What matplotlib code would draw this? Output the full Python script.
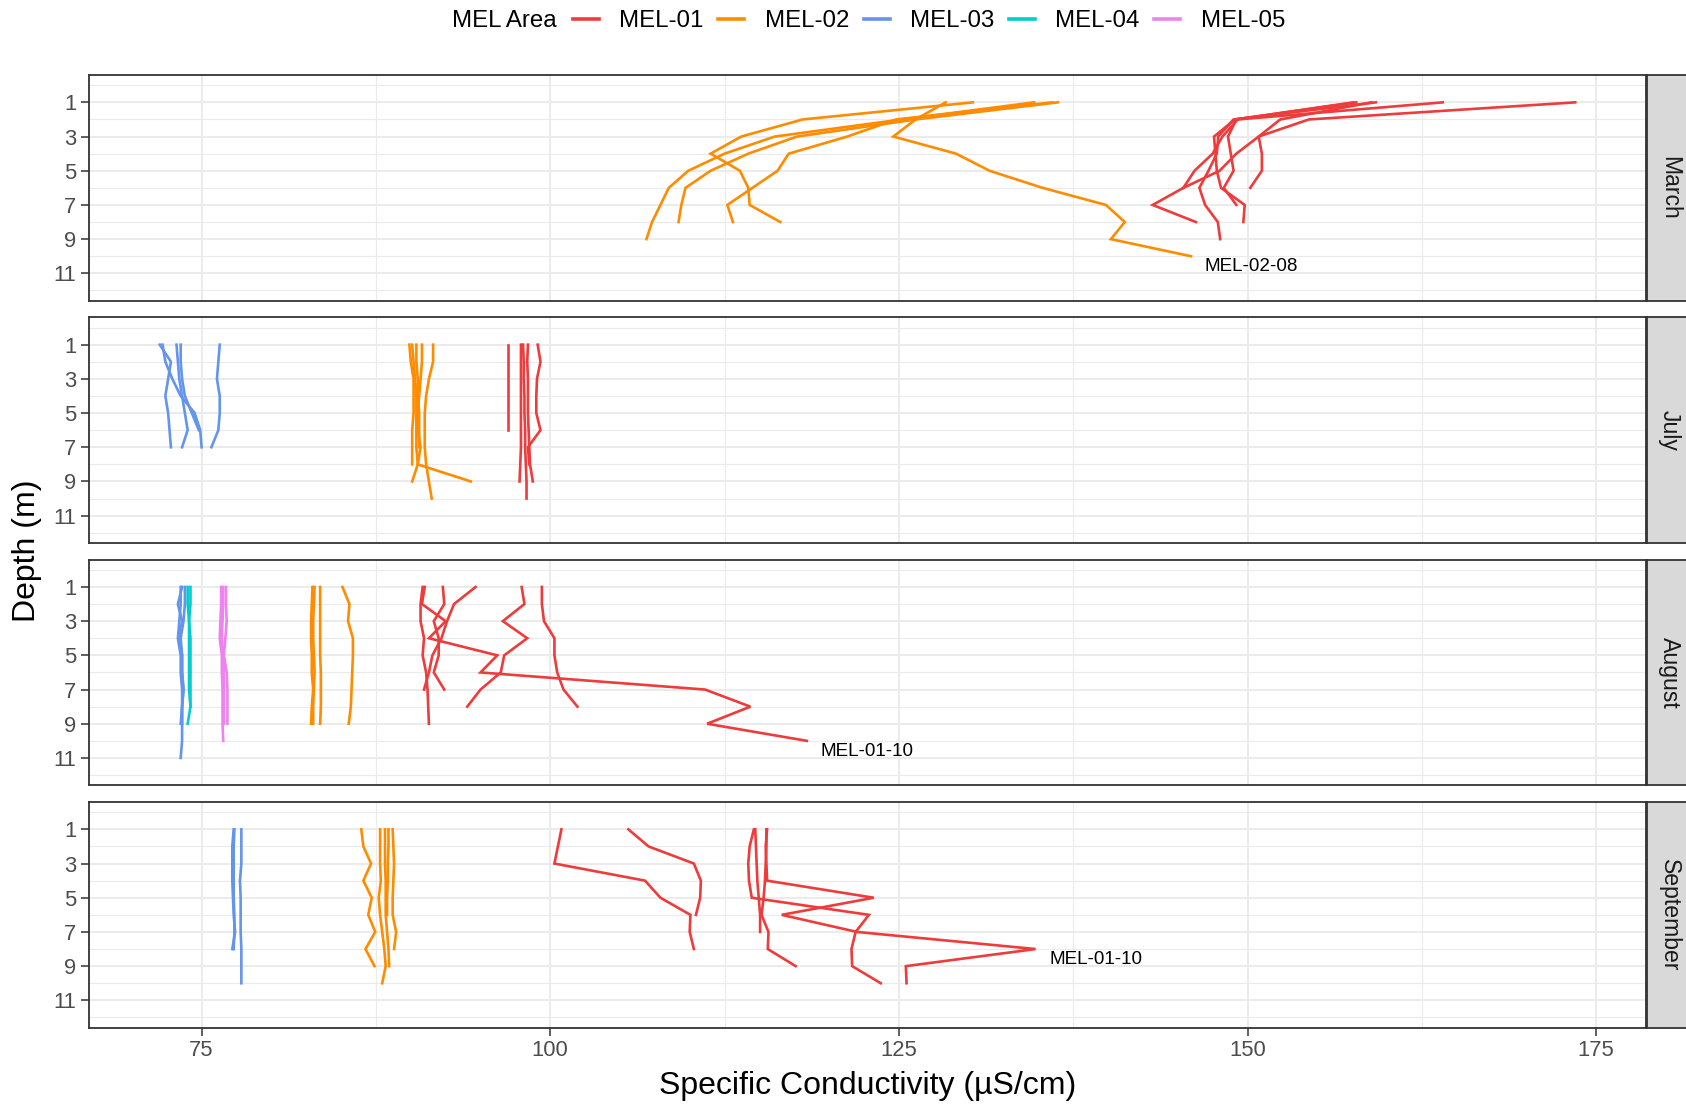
import matplotlib
matplotlib.use("Agg")
import matplotlib.pyplot as plt
from matplotlib.lines import Line2D
from matplotlib.ticker import FixedLocator
import numpy as np

plt.rcParams['font.family'] = ['Liberation Sans', 'DejaVu Sans']

# ---- data: conductivity profiles (µS/cm), depth starts at 1 m in 1 m steps ----
months = ["March", "July", "August", "September"]
areas = ["MEL-01", "MEL-02", "MEL-03", "MEL-04", "MEL-05"]
area_colors = ["#EE3B3B", "#FF8C00", "#6495ED", "#00CDCD", "#EE82EE"]

march_mel01 = [
    [173.5, 154.4, 150.8, 149.2, 148.0, 145.4, 143.2, 146.3],
    [164.0, 149.3, 148.2, 147.5, 146.2, 145.4],
    [159.2, 149.0, 147.9, 147.8, 147.2, 146.55, 146.96, 147.87, 148.04],
    [157.6, 149.2, 148.6, 148.8, 149.0, 148.3, 149.2],
    [157.8, 149.1, 147.6, 147.7, 147.8, 148.1, 149.8, 149.7],
    [158.9, 152.35, 150.8, 151.03, 151.03, 150.2],
]
march_mel02 = [
    [134.7, 125.2, 116.1, 112.5, 109.9, 108.5, 107.9, 107.3, 106.9],
    [136.4, 126.2, 117.7, 114.2, 111.5, 109.7, 109.4, 109.2],
    [136.0, 124.8, 121.3, 117.1, 116.3, 114.5, 112.7, 113.1],
    [130.3, 118.1, 113.7, 111.5, 113.6, 114.2, 114.3, 116.5],
]
march_mel02_08 = [128.35, 126.2, 124.6, 129.1, 131.5, 135.3, 139.85, 141.2, 140.2, 145.95]

july_mel01 = [
    [97.0, 97.0, 97.0, 97.0, 97.0, 97.0],
    [97.9, 97.9, 97.9, 97.9, 97.9, 97.9, 97.9, 97.85, 97.8],
    [98.05, 98.1, 98.1, 98.15, 98.15, 98.2, 98.2, 98.25, 98.3, 98.3],
    [98.4, 98.35, 98.4, 98.4, 98.4, 98.45, 98.5, 98.55, 98.75],
    [99.1, 99.3, 99.05, 99.0, 99.0, 99.3, 98.4, 98.5],
]
july_mel02 = [
    [89.9, 90.0, 90.2, 90.2, 90.2, 90.1, 90.1, 90.1],
    [90.1, 90.2, 90.3, 90.4, 90.4, 90.4, 90.4, 90.5, 90.1],
    [90.4, 90.4, 90.5, 90.5, 90.6, 90.6, 90.6],
    [90.8, 90.8, 90.7, 90.6, 90.5, 90.5, 90.7, 90.5, 94.3],
    [91.6, 91.6, 91.3, 91.1, 91.0, 91.0, 91.0, 91.1, 91.3, 91.5],
]
july_mel03 = [
    [72.0, 72.8, 72.6, 72.4, 72.6, 72.7, 72.8],
    [72.2, 72.4, 72.9, 73.5, 74.5, 74.9, 75.0],
    [73.2, 73.3, 73.4, 73.6, 73.8, 74.0, 73.6],
    [73.5, 73.5, 73.6, 73.8, 74.3, 74.8],
    [76.3, 76.2, 76.1, 76.3, 76.3, 76.2, 75.7],
]

august_mel01 = [
    [90.85, 90.7, 90.7, 90.95, 90.85, 91.1, 91.2, 91.25, 91.3],
    [92.3, 92.4, 91.65, 92.0, 92.0, 91.65, 92.4],
    [94.65, 93.1, 92.6, 92.2, 91.55, 91.3, 90.95],
    [97.95, 98.15, 96.6, 98.35, 96.7, 96.45, 95.0, 94.05],
    [99.4, 99.4, 99.55, 100.3, 100.3, 100.5, 100.95, 101.95],
]
august_mel01_10 = [91.0, 90.8, 92.5, 91.3, 96.2, 95.0, 111.1, 114.35, 111.25, 118.4]
august_mel02 = [
    [82.95, 82.9, 82.85, 82.85, 82.9, 82.9, 83.0, 82.9, 82.85],
    [83.1, 83.05, 83.0, 83.0, 83.05, 83.1, 83.05, 83.0, 83.0],
    [83.5, 83.5, 83.5, 83.5, 83.5, 83.55, 83.55, 83.55, 83.5],
    [85.1, 85.6, 85.5, 85.85, 85.85, 85.8, 85.75, 85.7, 85.55],
]
august_mel03 = [
    [73.6, 73.3, 73.6, 73.4, 73.6, 73.6, 73.7, 73.6, 73.5],
    [73.8, 73.8, 73.7, 73.5, 73.6, 73.6, 73.7, 73.6, 73.6, 73.6, 73.5],
    [73.5, 73.5, 73.4, 73.3, 73.5, 73.5, 73.6, 73.6, 73.6],
]
august_mel04 = [
    [74.2, 74.2, 74.1, 74.2, 74.2, 74.2, 74.2, 74.2, 74.0],
    [74.0, 74.0, 74.1, 74.1, 74.1, 74.1, 74.1, 74.2],
]
august_mel05 = [
    [76.4, 76.4, 76.35, 76.3, 76.45, 76.45, 76.5, 76.5, 76.5, 76.55],
    [76.75, 76.75, 76.8, 76.7, 76.6, 76.8, 76.85, 76.85, 76.85],
    [76.55, 76.55, 76.5, 76.45, 76.55, 76.6, 76.6, 76.6, 76.6],
]

september_mel01 = [
    [100.8, 100.55, 100.3, 106.8, 107.9, 110.05, 110.0, 110.3],
    [105.6, 107.05, 110.3, 110.8, 110.75, 110.45],
    [114.6, 114.3, 114.2, 114.25, 114.45, 122.85, 121.9, 121.6, 121.65, 123.7],
    [114.7, 114.75, 114.8, 114.85, 114.95, 115.05, 115.05],
    [115.5, 115.5, 115.45, 115.4, 115.3, 115.15, 115.65, 115.6, 117.6],
]
september_mel01_10 = [115.55, 115.45, 115.5, 115.55, 123.2, 116.6, 122.0, 134.8, 125.5, 125.55]
september_mel02 = [
    [86.45, 86.6, 87.15, 86.6, 87.2, 86.95, 87.45, 86.75, 87.4],
    [87.8, 87.8, 87.8, 87.85, 87.7, 87.8, 87.95, 88.1, 88.2, 87.95],
    [88.15, 88.15, 88.15, 88.2, 88.2, 88.2, 88.3, 88.4, 88.45],
    [88.4, 88.4, 88.35, 88.35, 88.3, 88.3],
    [88.7, 88.75, 88.8, 88.75, 88.7, 88.7, 88.95, 88.8],
]
september_mel03 = [
    [77.3, 77.2, 77.2, 77.2, 77.25, 77.3, 77.4, 77.2],
    [77.35, 77.3, 77.3, 77.3, 77.3, 77.35, 77.35, 77.3],
    [77.85, 77.85, 77.85, 77.75, 77.8, 77.8, 77.8, 77.85, 77.85, 77.85],
]

# month -> list of (area, profile values)
profiles = {
    "March": [("MEL-01", p) for p in march_mel01]
             + [("MEL-02", p) for p in march_mel02]
             + [("MEL-02", march_mel02_08)],
    "July": [("MEL-01", p) for p in july_mel01]
            + [("MEL-02", p) for p in july_mel02]
            + [("MEL-03", p) for p in july_mel03],
    "August": [("MEL-01", p) for p in august_mel01]
              + [("MEL-01", august_mel01_10)]
              + [("MEL-02", p) for p in august_mel02]
              + [("MEL-03", p) for p in august_mel03]
              + [("MEL-04", p) for p in august_mel04]
              + [("MEL-05", p) for p in august_mel05],
    "September": [("MEL-01", p) for p in september_mel01]
                 + [("MEL-01", september_mel01_10)]
                 + [("MEL-02", p) for p in september_mel02]
                 + [("MEL-03", p) for p in september_mel03],
}

# profiles called out by name, labelled at their maximum conductivity
callouts = {
    "March": ("MEL-02-08", march_mel02_08),
    "August": ("MEL-01-10", august_mel01_10),
    "September": ("MEL-01-10", september_mel01_10),
}

depth_ticks = [1, 3, 5, 7, 9, 11]
cond_ticks = [75, 100, 125, 150, 175]

color_of = dict(zip(areas, area_colors))

# ---- layout (pixel geometry of a 1686 x 1105 canvas) ----
W, H = 1686, 1105
fig = plt.figure(figsize=(W / 100, H / 100), dpi=100)
fig.patch.set_facecolor("white")

panel_left, panel_right = 89, 1646
panel_tops = [75, 317.3, 559.6, 802]
panel_h = 225.7
strip_w = 45

all_vals = np.concatenate([np.asarray(v) for m in months for _, v in profiles[m]])
xmin, xmax = all_vals.min(), all_vals.max()
xpad = 0.05 * (xmax - xmin)

grid_col = "#EBEBEB"
frame_col = "#333333"

axes = []
for i, month in enumerate(months):
    top = panel_tops[i]
    ax = fig.add_axes([panel_left / W, 1 - (top + panel_h) / H,
                       (panel_right - panel_left) / W, panel_h / H])
    axes.append(ax)
    ax.set_facecolor("white")

    for area, vals in profiles[month]:
        depth = np.arange(1, len(vals) + 1)
        ax.plot(vals, depth, color=color_of[area], lw=1.9,
                solid_joinstyle="miter", zorder=3)

    if month in callouts:
        name, vals = callouts[month]
        k = int(np.argmax(vals))
        ax.text(vals[k] + 1.0, k + 1 + 0.6, name, fontsize=13.6,
                color="black", ha="left", va="center", zorder=4)

    ax.set_xlim(xmin - xpad, xmax + xpad)
    ax.set_ylim(12.6, -0.6)

    ax.xaxis.set_major_locator(FixedLocator(cond_ticks))
    ax.xaxis.set_minor_locator(FixedLocator([62.5, 87.5, 112.5, 137.5, 162.5, 187.5]))
    ax.yaxis.set_major_locator(FixedLocator(depth_ticks))
    ax.yaxis.set_minor_locator(FixedLocator([0, 2, 4, 6, 8, 10, 12]))

    ax.grid(which="major", color=grid_col, lw=1.4, zorder=0)
    ax.grid(which="minor", color=grid_col, lw=0.8, zorder=0)
    ax.set_axisbelow(True)

    for s in ax.spines.values():
        s.set_color(frame_col)
        s.set_linewidth(1.3)

    ax.tick_params(which="minor", length=0)
    ax.tick_params(which="major", color=frame_col, width=1.1, length=5.5,
                   labelsize=15.8, labelcolor="#4D4D4D", pad=3.5)
    if i < len(months) - 1:
        ax.tick_params(axis="x", which="major", length=0, labelbottom=False)

    # facet strip on the right
    sax = fig.add_axes([(panel_right + 1) / W, 1 - (top + panel_h) / H,
                        strip_w / W, panel_h / H])
    sax.set_facecolor("#D9D9D9")
    sax.set_xticks([])
    sax.set_yticks([])
    for s in sax.spines.values():
        s.set_color(frame_col)
        s.set_linewidth(1.3)
    sax.text(0.5, 0.5, month, rotation=-90, ha="center", va="center",
             fontsize=16.6, color="#1A1A1A", transform=sax.transAxes)

# axis titles
fig.text(867.5 / W, 1 - 1086 / H, "Specific Conductivity (µS/cm)",
         ha="center", va="center", fontsize=23, color="black")
fig.text(27 / W, 1 - 551 / H, "Depth (m)", rotation=90,
         ha="center", va="center", fontsize=23, color="black")

# legend across the top
legend_y = 1 - 21 / H
fig.text(452 / W, legend_y, "MEL Area", ha="left", va="center",
         fontsize=17.3, color="black")
handles = [Line2D([], [], color=c, lw=2.6) for c in area_colors]
fig.legend(handles, areas, loc="center left",
           bbox_to_anchor=(573 / W, legend_y), ncol=5, frameon=False,
           fontsize=17.3, handlelength=1.08, handletextpad=0.84,
           columnspacing=0.62, borderpad=0, borderaxespad=0)

fig.savefig("out.png", dpi=100, facecolor="white")
